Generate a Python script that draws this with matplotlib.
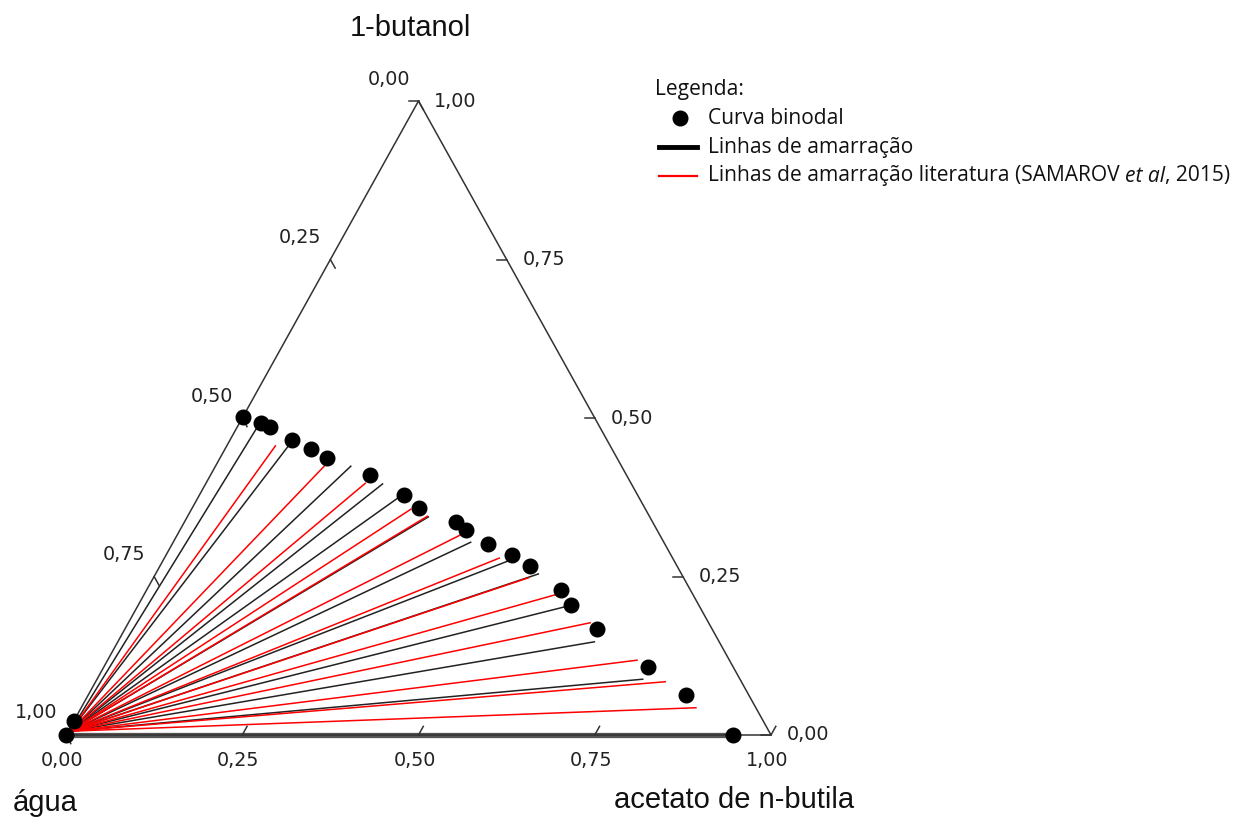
import matplotlib
matplotlib.use("Agg")
import matplotlib.pyplot as plt
import numpy as np

# ---- data (mass fractions: acetato de n-butila = xB, 1-butanol = xC) ----
binodal_acetato = [0.000, 0.000, 0.000, 0.030, 0.047, 0.088, 0.122, 0.152, 0.226, 0.290, 0.322,
                   0.385, 0.406, 0.448, 0.491, 0.525, 0.587, 0.614, 0.670, 0.772, 0.848, 0.946]
binodal_butanol = [0.000, 0.022, 0.502, 0.492, 0.486, 0.465, 0.451, 0.437, 0.410, 0.379, 0.358,
                   0.336, 0.323, 0.301, 0.284, 0.267, 0.229, 0.205, 0.167, 0.107, 0.063, 0.000]

# tie lines (experimental): water-rich end -> organic-rich end
tie_exp_start_acetato = [0.003] * 13
tie_exp_start_butanol = [0.006] * 13
tie_exp_end_acetato = [0.029, 0.089, 0.192, 0.251, 0.284, 0.342, 0.422, 0.489, 0.543, 0.609, 0.676, 0.774, 0.946]
tie_exp_end_butanol = [0.494, 0.464, 0.424, 0.396, 0.374, 0.344, 0.304, 0.274, 0.254, 0.203, 0.147, 0.088, 0.000]

# tie lines (literature, SAMAROV et al, 2015)
tie_lit_start_acetato = [0.003] * 13
tie_lit_start_butanol = [0.006] * 13
tie_lit_end_acetato = [0.069, 0.155, 0.226, 0.311, 0.340, 0.401, 0.475, 0.532, 0.583, 0.655, 0.751, 0.808, 0.872]
tie_lit_end_butanol = [0.456, 0.426, 0.397, 0.356, 0.345, 0.315, 0.279, 0.248, 0.221, 0.177, 0.118, 0.084, 0.043]

tick_values = [0.0, 0.25, 0.5, 0.75, 1.0]
tick_labels = ["0,00", "0,25", "0,50", "0,75", "1,00"]

# ---- geometry ----
H = 634 / 705


def tern(xb, xc):
    xb = np.asarray(xb, float)
    xc = np.asarray(xc, float)
    return xb + 0.5 * xc, xc * H


fig = plt.figure(figsize=(12.39, 8.26), dpi=100)
ax = fig.add_axes([0, 0, 1, 1])
ax.set_xlim(-66 / 705, 1173 / 705)
ax.set_ylim(-91 / 705, 735 / 705)
ax.axis("off")

edge_col = "#333333"
tkfont = dict(fontsize=13.8, color="#222222", family="DejaVu Sans")
# triangle
tx, ty = tern([0, 1, 0, 0], [0, 0, 1, 0])
ax.plot(tx, ty, color=edge_col, lw=1.1, zorder=3)

# ticks
tl = 0.014
lx = np.array([0.5, -H]); lx = lx / np.hypot(*lx)   # left-edge ticks (down-right)
bx = np.array([0.5, H]); bx = bx / np.hypot(*bx)    # bottom ticks (up-right)
for v, lab in zip(tick_values, tick_labels):
    # left edge: water fraction v -> butanol = 1 - v
    px, py = tern(0, 1 - v)
    ax.plot([px, px + tl * lx[0]], [py, py + tl * lx[1]], color=edge_col, lw=1.1, zorder=3)
    ax.annotate(lab, (px, py), xytext=(-30, 22), textcoords="offset pixels",
                ha="center", va="center", **tkfont)
    # right edge: butanol fraction v
    px, py = tern(1 - v, v)
    ax.plot([px, px - tl], [py, py], color=edge_col, lw=1.1, zorder=3)
    ax.annotate(lab, (px, py), xytext=(37, 0), textcoords="offset pixels",
                ha="center", va="center", **tkfont)
    # bottom: acetato fraction v
    px, py = tern(v, 0)
    ax.plot([px, px + tl * bx[0]], [py, py + tl * bx[1]], color=edge_col, lw=1.1, zorder=3)
    ax.annotate(lab, (px, py), xytext=(-4, -26), textcoords="offset pixels",
                ha="center", va="center", **tkfont)

# tie lines
for i in range(len(tie_exp_end_acetato)):
    x, y = tern([tie_exp_start_acetato[i], tie_exp_end_acetato[i]],
                [tie_exp_start_butanol[i], tie_exp_end_butanol[i]])
    if tie_exp_end_butanol[i] == 0:
        ax.plot(x, [0, 0], color="#555555", lw=3.8, zorder=2, solid_capstyle="butt")
    else:
        ax.plot(x, y, color="#222222", lw=1.1, zorder=2)
for i in range(len(tie_lit_end_acetato)):
    x, y = tern([tie_lit_start_acetato[i], tie_lit_end_acetato[i]],
                [tie_lit_start_butanol[i], tie_lit_end_butanol[i]])
    ax.plot(x, y, color="#ff0000", lw=1.1, zorder=2)

# binodal points
bxp, byp = tern(binodal_acetato, binodal_butanol)
ax.plot(bxp, byp, "o", color="black", ms=10.5, zorder=4, clip_on=False)

# axis titles
tfont = dict(family="Liberation Sans", fontsize=21, color="#111111")
fig.text(410 / 1239, 1 - 28 / 826, "1-butanol", ha="center", va="center", **tfont)
fig.text(45 / 1239, 1 - 803 / 826, "água", ha="center", va="center", **tfont)
fig.text(734 / 1239, 1 - 800 / 826, "acetato de n-butila", ha="center", va="center", **tfont)

# legend (manual)
lf = dict(family="Open Sans", fontsize=15.1, color="#111111", va="center")


def fy(p):
    return 1 - p / 826


def fx(p):
    return p / 1239


fig.text(fx(655), fy(90), "Legenda:", ha="left", **lf)
fig.lines.append(plt.Line2D([fx(680)], [fy(118)], marker="o", ms=10.5, color="black",
                            transform=fig.transFigure))
fig.lines.append(plt.Line2D([fx(659), fx(697)], [fy(147), fy(147)], lw=3.5, color="black",
                            transform=fig.transFigure))
fig.lines.append(plt.Line2D([fx(659), fx(697)], [fy(176), fy(176)], lw=1.6, color="#ff0000",
                            transform=fig.transFigure))
fig.text(fx(708), fy(118), "Curva binodal", ha="left", **lf)
fig.text(fx(708), fy(147), "Linhas de amarração", ha="left", **lf)

r = fig.canvas.get_renderer()
t1 = fig.text(fx(708), fy(176), "Linhas de amarração literatura (SAMAROV ", ha="left", **lf)
bb = t1.get_window_extent(r)
t2 = fig.text(bb.x1 / 1239, fy(176), "et al", ha="left", style="italic", **lf)
bb2 = t2.get_window_extent(r)
fig.text(bb2.x1 / 1239, fy(176), ", 2015)", ha="left", **lf)

fig.savefig("out.png", dpi=100)
